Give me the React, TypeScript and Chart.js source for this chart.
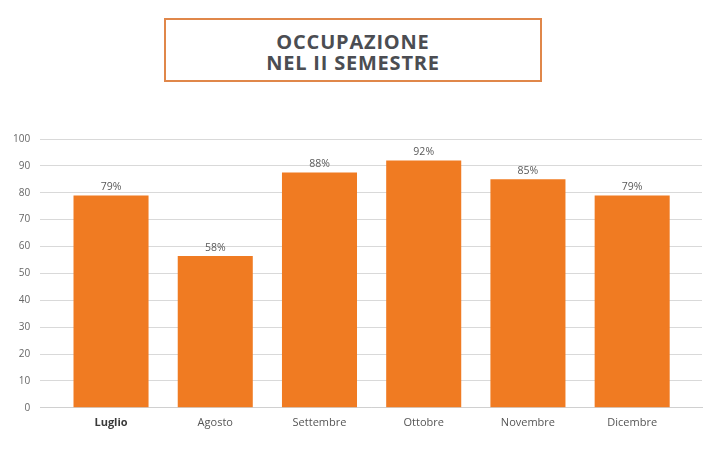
import React, { useEffect, useRef } from 'react';
import { Chart, registerables } from 'chart.js';

Chart.register(...registerables);

const months = ['Luglio', 'Agosto', 'Settembre', 'Ottobre', 'Novembre', 'Dicembre'];
const occupancy = [79, 56.5, 87.5, 92, 85, 79];
const barLabels = ['79%', '58%', '88%', '92%', '85%', '79%'];
const yTicks = [0, 10, 20, 30, 40, 50, 60, 70, 80, 90, 100];

const ORANGE = '#f07b22';
const FONT = "'Open Sans', 'Noto Sans', sans-serif";

// writes the percentage above each bar
const barValuePlugin = {
  id: 'barValues',
  afterDatasetsDraw(chart: any) {
    const ctx = chart.ctx;
    const meta = chart.getDatasetMeta(0);
    ctx.save();
    ctx.font = `10.5px ${FONT}`;
    ctx.fillStyle = '#595959';
    ctx.textAlign = 'center';
    ctx.textBaseline = 'bottom';
    meta.data.forEach((bar: any, i: number) => {
      ctx.fillText(barLabels[i], bar.x, bar.y - 3);
    });
    ctx.restore();
  }
};

const OccupancyChart: React.FC = () => {
  const canvasRef = useRef<HTMLCanvasElement | null>(null);

  useEffect(() => {
    const ctx = canvasRef.current?.getContext('2d');
    if (!ctx) return;

    const chart = new Chart(ctx, {
      type: 'bar',
      data: {
        datasets: [
          {
            data: occupancy.map((v, i) => ({ x: i, y: v })),
            backgroundColor: ORANGE,
            borderWidth: 0,
            barPercentage: 0.72,
            categoryPercentage: 1
          }
        ]
      },
      options: {
        animation: false,
        responsive: false,
        layout: { padding: { top: 39, left: 3, right: 18, bottom: 24 } },
        plugins: {
          legend: { display: false },
          tooltip: { enabled: false }
        },
        scales: {
          x: {
            type: 'linear',
            offset: false,
            min: -0.68,
            max: 5.67,
            afterBuildTicks: (scale: any) => {
              scale.ticks = months.map((_, i) => ({ value: i }));
            },
            grid: { display: false },
            border: { display: true, color: '#d0d0d0' },
            ticks: {
              autoSkip: false,
              maxRotation: 0,
              padding: 0,
              color: (c: any) => (c.tick && c.tick.value === 0 ? '#3a3a3a' : '#555'),
              font: (c: any) => ({
                family: FONT,
                size: 11,
                weight: c.tick && c.tick.value === 0 ? 'bold' : 'normal'
              }),
              callback: (value: any) => months[value as number] ?? ''
            }
          },
          y: {
            min: 0,
            max: 100,
            afterBuildTicks: (scale: any) => {
              scale.ticks = yTicks.map((v) => ({ value: v }));
            },
            grid: { color: '#d9d9d9', drawTicks: false },
            border: { display: false },
            ticks: {
              padding: 10,
              color: '#666',
              font: { family: FONT, size: 10 }
            }
          }
        }
      },
      plugins: [barValuePlugin]
    });

    return () => {
      chart.destroy();
    };
  }, []);

  return (
    <canvas
      ref={canvasRef}
      width={720}
      height={353}
      style={{ position: 'absolute', left: 0, top: 100, width: 720, height: 353 }}
    />
  );
};

const App: React.FC = () => {
  return (
    <div style={{ position: 'fixed', left: 0, top: 0, width: 720, height: 453, background: '#fff' }}>
      <div
        style={{
          position: 'absolute',
          left: 164,
          top: 18,
          width: 374,
          height: 57,
          border: '2px solid #e0874a',
          display: 'flex',
          flexDirection: 'column',
          alignItems: 'center',
          justifyContent: 'center',
          paddingTop: 3,
          boxSizing: 'content-box',
          fontFamily: FONT,
          fontWeight: 700,
          fontSize: 20,
          lineHeight: '21px',
          color: '#4b4d52',
          letterSpacing: 0.8
        }}
      >
        <div>OCCUPAZIONE</div>
        <div>NEL II SEMESTRE</div>
      </div>
      <OccupancyChart />
    </div>
  );
};

export default App;
